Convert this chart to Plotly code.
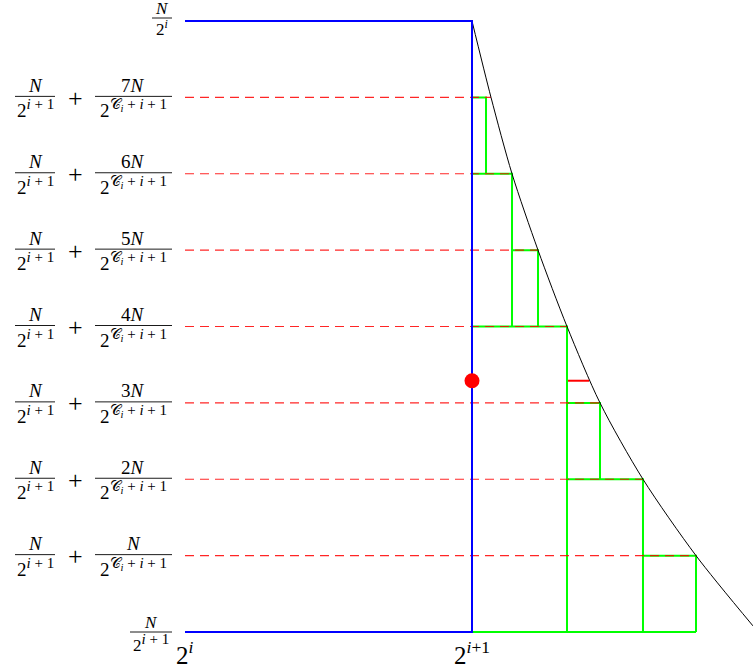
import plotly.graph_objects as go

# ---- data (levels in units of N/2^(C_i+i+1) above N/2^(i+1); x: 0 -> 2^i, 1 -> 2^(i+1)) ----
level_multipliers = [7, 6, 5, 4, 3, 2, 1]
level_numerators = ["7<i>N</i>", "6<i>N</i>", "5<i>N</i>", "4<i>N</i>", "3<i>N</i>", "2<i>N</i>", "<i>N</i>"]
curve_x = [1.0, 1.0662, 1.1394, 1.2300, 1.3310, 1.4460, 1.5958, 1.7805, 1.979]
curve_y = [8, 7, 6, 5, 4, 3, 2, 1, 0.08]
dash_end_x = [1.0662, 1.1394, 1.2300, 1.3310, 1.4460, 1.5958, 1.7805]  # per level 7..1
green_level = [7, 6, 5, 4, 3, 2, 1]
green_x_left = [1.0, 1.0, 1.1394, 1.0, 1.3310, 1.3310, 1.5958]
green_x_right = [1.0488, 1.1394, 1.2300, 1.3310, 1.4460, 1.5958, 1.7805]
green_drop_to = [6, 4, 4, 0, 2, 0, 0]
green_base = [1.0, 1.7805]
blue_x = [0, 1, 1, 0]
blue_y = [8, 8, 0, 0]
dot_x, dot_y = 1.0, 3.29
red_seg_x = [1.3345, 1.4077]
red_seg_y = [3.29, 3.29]
x_tick_labels = ["2<sup><i>i</i></sup>", "2<sup><i>i</i>+1</sup>"]
x_tick_vals = [0, 1]

W, H = 753, 667
X0, XS = 185, 287.0
Y0, YS = 632, 76.375


def px(x):
    return X0 + XS * x


def py(l):
    return Y0 - YS * l


def dx(p):
    return (p - X0) / XS


def dy(p):
    return (Y0 - p) / YS


fig = go.Figure()

# green staircase
for lv, xl, xr, dt in zip(green_level, green_x_left, green_x_right, green_drop_to):
    fig.add_trace(go.Scatter(x=[xl, xr, xr], y=[lv, lv, dt], mode="lines",
                             line=dict(color="#00ff00", width=2), hoverinfo="skip"))
fig.add_trace(go.Scatter(x=green_base, y=[0, 0], mode="lines",
                         line=dict(color="#00ff00", width=2), hoverinfo="skip"))

# red dashed levels
for lv, xe in zip(level_multipliers, dash_end_x):
    fig.add_trace(go.Scatter(x=[0, xe], y=[lv, lv], mode="lines",
                             line=dict(color="rgba(255,0,0,0.85)", width=1.1, dash="9px,6px"),
                             hoverinfo="skip"))

# curve
fig.add_trace(go.Scatter(x=curve_x, y=curve_y, mode="lines",
                         line=dict(color="black", width=1, shape="spline", smoothing=0.8),
                         hoverinfo="skip"))

# blue
fig.add_trace(go.Scatter(x=blue_x, y=blue_y, mode="lines",
                         line=dict(color="#0000ff", width=2), hoverinfo="skip"))

# red segment and dot
fig.add_trace(go.Scatter(x=red_seg_x, y=red_seg_y, mode="lines",
                         line=dict(color="red", width=2), hoverinfo="skip"))
fig.add_trace(go.Scatter(x=[dot_x], y=[dot_y], mode="markers",
                         marker=dict(color="red", size=15, line=dict(width=0)), hoverinfo="skip"))

FONT = "Liberation Serif"
ann = []
shapes = []


def frac(cx, x_left, x_right, bar_py, num, den, size=19, num_off=11, den_off=12.5):
    ann.append(dict(x=dx(cx), y=dy(bar_py - num_off), xref="x", yref="y", text=num,
                    showarrow=False, xanchor="center", yanchor="middle",
                    font=dict(family=FONT, size=size, color="black")))
    ann.append(dict(x=dx(cx), y=dy(bar_py + den_off), xref="x", yref="y", text=den,
                    showarrow=False, xanchor="center", yanchor="middle",
                    font=dict(family=FONT, size=size, color="black")))
    shapes.append(dict(type="line", xref="x", yref="y", x0=dx(x_left), x1=dx(x_right),
                       y0=dy(bar_py), y1=dy(bar_py), line=dict(color="black", width=0.9)))


den1 = "2<sup><span style='font-size:15px'><i>i</i> + 1</span></sup>"
den2 = "2<sup><span style='font-size:15px'>𝒞<sub><i>i</i></sub> + <i>i</i> + 1</span></sup>"
for lv, numtxt in zip(level_multipliers, level_numerators):
    ly = py(lv) - 1
    frac(35, 15, 55, ly, "<i>N</i>", den1)
    ann.append(dict(x=dx(75), y=dy(ly + 2), xref="x", yref="y", text="+", showarrow=False,
                    xanchor="center", yanchor="middle",
                    font=dict(family=FONT, size=26, color="black")))
    frac(133, 95, 172, ly, numtxt, den2)

# top and bottom labels
frac(162, 152, 172, 18, "<i>N</i>", "2<sup><i>i</i></sup>", size=17, num_off=9.5, den_off=10)
frac(151, 130, 172, 632, "<i>N</i>", den1, size=17, num_off=9.5, den_off=11)

# x tick labels
for xv, t in zip(x_tick_vals, x_tick_labels):
    ann.append(dict(x=xv, y=dy(653), xref="x", yref="y", text=t, showarrow=False,
                    xanchor="center", yanchor="middle",
                    font=dict(family=FONT, size=25, color="black")))

fig.update_layout(
    width=W, height=H, margin=dict(l=0, r=0, t=0, b=0),
    paper_bgcolor="white", plot_bgcolor="white", showlegend=False,
    xaxis=dict(range=[dx(0), dx(W)], visible=False, fixedrange=True),
    yaxis=dict(range=[dy(H), dy(0)], visible=False, fixedrange=True),
    annotations=ann, shapes=shapes,
)

fig.write_html("out.html")
